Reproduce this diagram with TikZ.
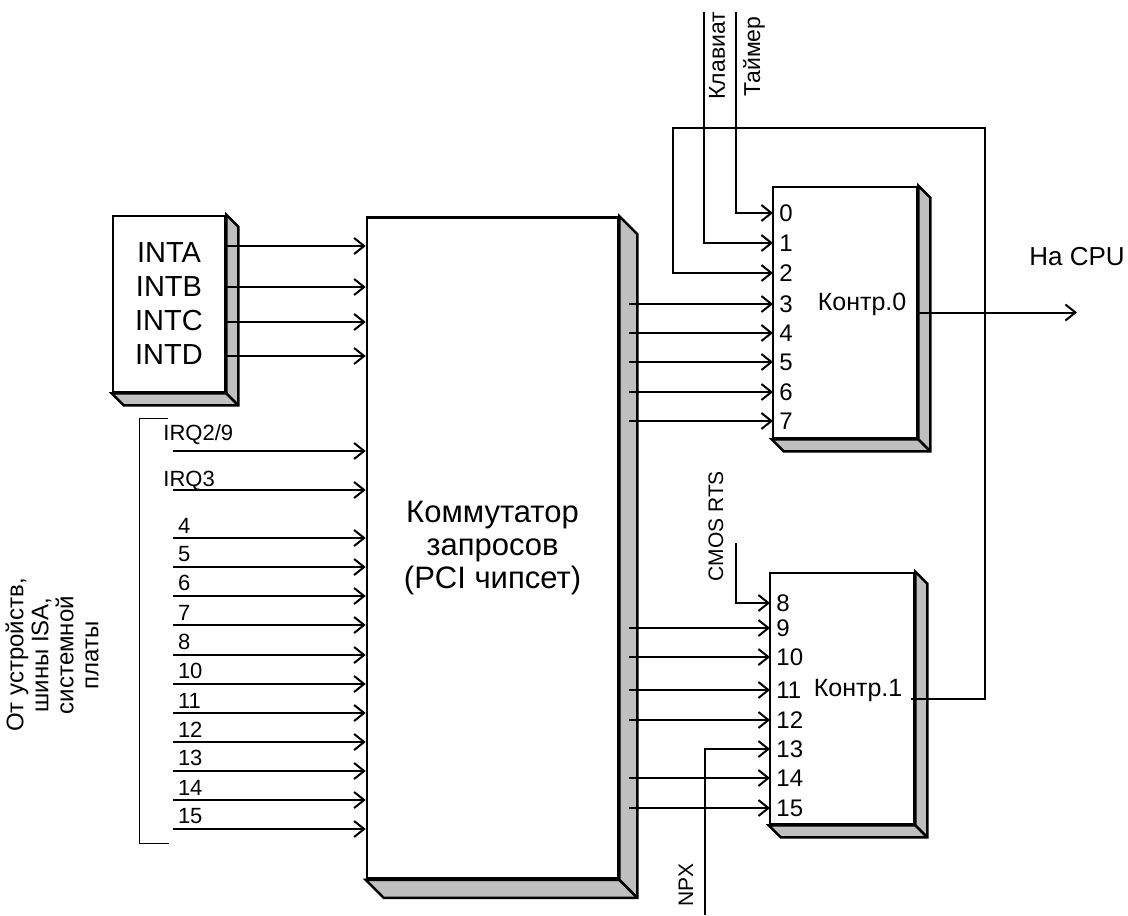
\documentclass[tikz,border=0pt]{standalone}
\usepackage{fontspec}
\setmainfont{Liberation Sans}
\usetikzlibrary{arrows.meta, positioning}

% grey side and bottom faces of a block
\newcommand{\boxshadow}[2]{%
    \filldraw[fill=black!25, line width=1.3pt, line join=miter]
        (#1.north east) -- ++(#2,#2) -- ([shift={(#2,#2)}]#1.south east)
        -- ([shift={(#2,#2)}]#1.south west) -- (#1.south west) -- (#1.south east) -- cycle;
    \draw[line width=1.3pt] (#1.south east) -- ++(#2,#2);}

\begin{document}
\begin{tikzpicture}[
        x=0.5pt, y=-0.5pt,
        blockbox/.style={draw, rectangle, line width=1.3pt, fill=white, inner sep=0pt, align=center},
        arr/.style={line width=1pt, -{Straight Barb[length=5pt, width=8pt]}},
        port/.style={anchor=west, inner sep=3pt, font=\fontsize{12}{14}\selectfont},
        irq/.style={inner sep=2pt, font=\fontsize{11}{13}\selectfont},
        vlab/.style={rotate=90, inner sep=0pt, font=\fontsize{10.5}{12}\selectfont}
    ]
        \useasboundingbox (0,0) rectangle (1128,915);

        % The Blocks
        \node[blockbox, minimum width=56pt, minimum height=88pt, font=\fontsize{14.5}{17}\selectfont] (pci) at (169,304) {INTA\\INTB\\INTC\\INTD};
        \node[blockbox, minimum width=125.5pt, minimum height=330.5pt, font=\fontsize{15.5}{16.5}\selectfont] (hub) at (492.5,548) {Коммутатор\\запросов\\(PCI чипсет)};
        \node[blockbox, minimum width=72pt, minimum height=125.5pt] (k0) at (845,312.5) {};
        \node[blockbox, minimum width=72pt, minimum height=125.5pt] (k1) at (842,698.5) {};
        \boxshadow{pci}{12}
        \boxshadow{hub}{18}
        \boxshadow{k0}{12}
        \boxshadow{k1}{12}

        % Labels
        \node[font=\fontsize{12.5}{14}\selectfont] (k0lbl) at (862,304) {Контр.0};
        \node[font=\fontsize{12.5}{14}\selectfont] (k1lbl) at (858,690) {Контр.1};
        \node[font=\fontsize{13}{15}\selectfont] (cpu) at (1077,257) {На CPU};
        \node[rotate=90, align=center, font=\fontsize{12}{12.5}\selectfont] (src) at (52,655) {От устройств,\\шины ISA,\\системной\\платы};

        % Inputs of Kontr.0
        \node[port] (p0) at (773,213) {0};
        \node[port] (p1) at (773,243) {1};
        \node[port] (p2) at (773,273) {2};
        \node[port] (p3) at (773,304) {3};
        \node[port] (p4) at (773,333) {4};
        \node[port] (p5) at (773,362) {5};
        \node[port] (p6) at (773,392) {6};
        \node[port] (p7) at (773,421) {7};

        % Inputs of Kontr.1
        \node[port] (p8) at (770,603) {8};
        \node[port] (p9) at (770,628) {9};
        \node[port] (p10) at (770,657) {10};
        \node[port] (p11) at (770,690) {11};
        \node[port] (p12) at (770,720) {12};
        \node[port] (p13) at (770,749) {13};
        \node[port] (p14) at (770,778) {14};
        \node[port] (p15) at (770,808) {15};

        % PCI interrupts
        \draw[arr] (225,246) coordinate (ia) -- (ia -| hub.west);
        \draw[arr] (225,287) coordinate (ib) -- (ib -| hub.west);
        \draw[arr] (225,322) coordinate (ic) -- (ic -| hub.west);
        \draw[arr] (225,356) coordinate (id) -- (id -| hub.west);

        % ISA requests
        \draw (168,418) -- (139,418) -- (139,843) -- (169,843);
        \node[irq, anchor=base west, inner sep=0pt] (l2) at (163,440) {IRQ2/9};
        \node[irq, anchor=base west, inner sep=0pt] (l3) at (163,486) {IRQ3};
        \draw[arr] (173,451) coordinate (q2) -- (q2 -| hub.west);
        \draw[arr] (173,490) coordinate (q3) -- (q3 -| hub.west);
        \draw[arr] (173,538) coordinate (q4) node[irq, above right] (l4) {4} -- (q4 -| hub.west);
        \draw[arr] (173,567) coordinate (q5) node[irq, above right] (l5) {5} -- (q5 -| hub.west);
        \draw[arr] (173,596) coordinate (q6) node[irq, above right] (l6) {6} -- (q6 -| hub.west);
        \draw[arr] (173,625) coordinate (q7) node[irq, above right] (l7) {7} -- (q7 -| hub.west);
        \draw[arr] (173,655) coordinate (q8) node[irq, above right] (l8) {8} -- (q8 -| hub.west);
        \draw[arr] (173,684) coordinate (q10) node[irq, above right] (l10) {10} -- (q10 -| hub.west);
        \draw[arr] (173,713) coordinate (q11) node[irq, above right] (l11) {11} -- (q11 -| hub.west);
        \draw[arr] (173,742) coordinate (q12) node[irq, above right] (l12) {12} -- (q12 -| hub.west);
        \draw[arr] (173,771) coordinate (q13) node[irq, above right] (l13) {13} -- (q13 -| hub.west);
        \draw[arr] (173,800) coordinate (q14) node[irq, above right] (l14) {14} -- (q14 -| hub.west);
        \draw[arr] (173,829) coordinate (q15) node[irq, above right] (l15) {15} -- (q15 -| hub.west);

        % Switch outputs
        \draw[arr] ([xshift=5pt]p3.west -| hub.east) -- (p3.west);
        \draw[arr] ([xshift=5pt]p4.west -| hub.east) -- (p4.west);
        \draw[arr] ([xshift=5pt]p5.west -| hub.east) -- (p5.west);
        \draw[arr] ([xshift=5pt]p6.west -| hub.east) -- (p6.west);
        \draw[arr] ([xshift=5pt]p7.west -| hub.east) -- (p7.west);
        \draw[arr] ([xshift=5pt]p9.west -| hub.east) -- (p9.west);
        \draw[arr] ([xshift=5pt]p10.west -| hub.east) -- (p10.west);
        \draw[arr] ([xshift=5pt]p11.west -| hub.east) -- (p11.west);
        \draw[arr] ([xshift=5pt]p12.west -| hub.east) -- (p12.west);
        \draw[arr] ([xshift=5pt]p14.west -| hub.east) -- (p14.west);
        \draw[arr] ([xshift=5pt]p15.west -| hub.east) -- (p15.west);

        % Fixed sources
        \coordinate (tmr) at (736,12);
        \coordinate (kbd) at (704,12);
        \coordinate (rtc) at (736,543);
        \coordinate (npx) at (705,915);
        \draw[arr] (tmr) |- (p0.west);
        \draw[arr] (kbd) |- (p1.west);
        \draw[arr] (rtc) |- (p8.west);
        \draw[arr] (npx) |- (p13.west);
        \node[vlab, anchor=west, font=\fontsize{11.5}{14}\selectfont] (kbdl) at (717,100) {Клавиат};
        \node[vlab, anchor=west, font=\fontsize{11.5}{14}\selectfont] (tmrl) at (754,97) {Таймер};
        \node[vlab, anchor=west] (rtcl) at (716,582) {CMOS RTS};
        \node[vlab, anchor=west] (npxl) at (686,907) {NPX};

        % Cascade and output
        \coordinate (loopc) at (673,128);
        \draw[arr] ([xshift=-2pt]k1.east) -| (985,128) -- (loopc) |- (p2.west);
        \draw[arr] (k0.east) -- (k0.east -| cpu);

    \end{tikzpicture}
\end{document}
